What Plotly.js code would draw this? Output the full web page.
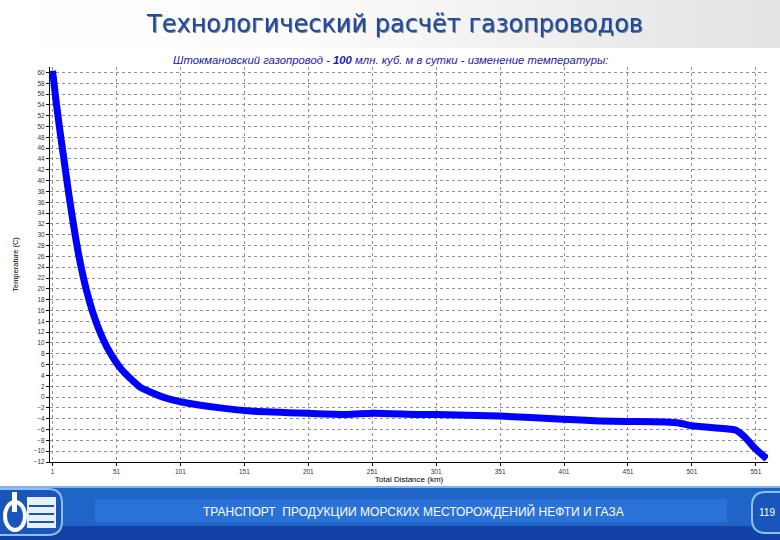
<!DOCTYPE html>
<html>
<head>
<meta charset="utf-8">
<script src="https://cdn.plot.ly/plotly-3.0.1.min.js"></script>
<style>
  html, body { margin: 0; padding: 0; }
  body { width: 780px; height: 540px; overflow: hidden;
         background: linear-gradient(to right, #ffffff 0%, #fbfbfb 40%, #e3e3e5 100%); }
  #chart { width: 780px; height: 540px; }
</style>
</head>
<body>
<div id="chart"></div>
<script>
// ---- data ----
const distanceKm = [1, 3.7, 6.4, 10, 13.6, 17.2, 21.8, 27.5, 31.9, 35.4, 40.9, 46.2, 55.3, 69.4, 87.4, 106, 132, 158, 201, 231, 252, 286, 301, 350, 400, 429, 450, 480, 491, 501, 520, 535, 542, 550, 559.6];
const temperatureC = [60.3, 54.8, 49.85, 43.75, 37.66, 32.1, 25.85, 19.75, 16.06, 13.66, 10.52, 8.13, 5.0, 1.85, 0.0, -1.1, -2.0, -2.6, -3.0, -3.2, -3.0, -3.2, -3.2, -3.5, -4.1, -4.4, -4.5, -4.6, -4.8, -5.3, -5.7, -6.1, -7.3, -9.4, -11.4];
const xTickVals = [1, 51, 101, 151, 201, 251, 301, 351, 401, 451, 501, 551];
const xTickText = ['1', '51', '101', '151', '201', '251', '301', '351', '401', '451', '501', '551'];
const slideTitle = 'Технологический расчёт газопроводов';
const chartTitle = 'Штокмановский газопровод - <b>100</b> млн. куб. м в сутки - изменение температуры:';
const xTitle = 'Total Distance (km)';
const yTitle = 'Temperature (C)';
const footerText = 'ТРАНСПОРТ  ПРОДУКЦИИ МОРСКИХ МЕСТОРОЖДЕНИЙ НЕФТИ И ГАЗА';
const pageNumber = '119';

// ---- layout geometry helpers (pixel -> paper) ----
const W = 780, H = 540;
const M = { l: 50, r: 12, t: 67, b: 78 };
const PW = W - M.l - M.r, PH = H - M.t - M.b;
const px = v => (v - M.l) / PW;
const py = v => (H - M.b - v) / PH;

function rect(x0, y0, x1, y1, fill, layer, line) {
  return { type: 'rect', xref: 'paper', yref: 'paper', x0: px(x0), x1: px(x1), y0: py(y1), y1: py(y0),
           fillcolor: fill, line: line || { width: 0 }, layer: layer || 'above' };
}
function rpath(x0, y0, x1, y1, r, fill, line) {
  const X = v => px(v), Y = v => py(v);
  const p = `M ${X(x0 + r)} ${Y(y0)} L ${X(x1 - r)} ${Y(y0)} Q ${X(x1)} ${Y(y0)} ${X(x1)} ${Y(y0 + r)} ` +
            `L ${X(x1)} ${Y(y1 - r)} Q ${X(x1)} ${Y(y1)} ${X(x1 - r)} ${Y(y1)} L ${X(x0 + r)} ${Y(y1)} ` +
            `Q ${X(x0)} ${Y(y1)} ${X(x0)} ${Y(y1 - r)} L ${X(x0)} ${Y(y0 + r)} Q ${X(x0)} ${Y(y0)} ${X(x0 + r)} ${Y(y0)} Z`;
  return { type: 'path', xref: 'paper', yref: 'paper', path: p, fillcolor: fill, line: line || { width: 0 }, layer: 'above' };
}

const shapes = [
  rect(0, 48, 780, 486, '#ffffff', 'below'),
  // footer band
  rect(0, 486, 780, 540, '#2064c8'),
  rect(0, 486, 780, 488, '#7fb2ee'),
  rect(0, 526, 780, 540, '#1242a6'),
  rect(95, 499, 727, 522, '#2b72d8'),
  // logo box
  rpath(-20, 489, 62, 535, 14, '#1a56ba', { color: '#8cc0f2', width: 2 }),
  rect(27, 497, 56, 528, '#e8f0ff'),
  rect(29, 505, 54, 507, '#1a56ba'),
  rect(29, 513, 54, 515, '#1a56ba'),
  rect(29, 521, 54, 523, '#1a56ba'),
  { type: 'circle', xref: 'paper', yref: 'paper', x0: px(5), x1: px(25), y0: py(530), y1: py(502),
    fillcolor: 'rgba(0,0,0,0)', line: { color: '#ffffff', width: 4 }, layer: 'above' },
  rect(12, 492, 17, 512, '#ffffff'),
  // page number pill
  rpath(752, 492, 800, 533, 14, '#1a56ba', { color: '#8cc0f2', width: 2 })
];

const annotations = [
  { text: slideTitle, xref: 'paper', yref: 'paper', x: px(394), y: py(24), xanchor: 'center', yanchor: 'middle',
    showarrow: false, font: { family: 'DejaVu Sans', size: 24, color: '#1f4b9e' } },
  { text: '<i>' + chartTitle + '</i>', xref: 'paper', yref: 'paper', x: px(390), y: py(60), xanchor: 'center', yanchor: 'middle',
    showarrow: false, font: { family: 'Liberation Sans', size: 11.3, color: '#1a1aa8' } },
  { text: footerText, xref: 'paper', yref: 'paper', x: px(413), y: py(511), xanchor: 'center', yanchor: 'middle',
    showarrow: false, font: { family: 'Liberation Sans', size: 12, color: '#ffffff' } },
  { text: pageNumber, xref: 'paper', yref: 'paper', x: px(767), y: py(512), xanchor: 'center', yanchor: 'middle',
    showarrow: false, font: { family: 'Liberation Sans', size: 10, color: '#ffffff' } }
];

const trace = {
  x: distanceKm, y: temperatureC, type: 'scatter', mode: 'lines',
  line: { color: '#0000ff', width: 7, shape: 'spline', smoothing: 0.5 },
  hoverinfo: 'skip'
};

const layout = {
  width: W, height: H, margin: M,
  paper_bgcolor: 'rgba(0,0,0,0)', plot_bgcolor: '#ffffff',
  showlegend: false,
  font: { family: 'Liberation Sans', color: '#000000' },
  xaxis: {
    range: [-1, 560.5], tickvals: xTickVals, ticktext: xTickText,
    showgrid: true, gridcolor: '#909090', griddash: 'dot', gridwidth: 1,
    zeroline: false, showline: true, linecolor: '#000000', linewidth: 1,
    ticks: 'outside', ticklen: 3, tickcolor: '#000000',
    tickfont: { size: 6.5, color: '#333333' },
    title: { text: xTitle, font: { size: 8, color: '#000000' }, standoff: 2 }
  },
  yaxis: {
    range: [-12, 61], tickvals: Array.from({ length: 37 }, (_, i) => -12 + 2 * i),
    showgrid: true, gridcolor: '#909090', griddash: 'dot', gridwidth: 1,
    zeroline: false, showline: true, linecolor: '#000000', linewidth: 1,
    ticks: 'outside', ticklen: 3, tickcolor: '#000000',
    tickfont: { size: 6.5, color: '#333333' },
    title: { text: yTitle, font: { size: 7.5, color: '#000000' }, standoff: 14 }
  },
  shapes: shapes,
  annotations: annotations
};

Plotly.newPlot('chart', [trace], layout, { displayModeBar: false, staticPlot: true }).then(() => {
  const t = document.querySelectorAll('.annotation-text');
  if (t[0]) t[0].style.filter = 'drop-shadow(1.5px 1.5px 0.5px rgba(20,30,60,0.55))';
});
</script>
</body>
</html>
